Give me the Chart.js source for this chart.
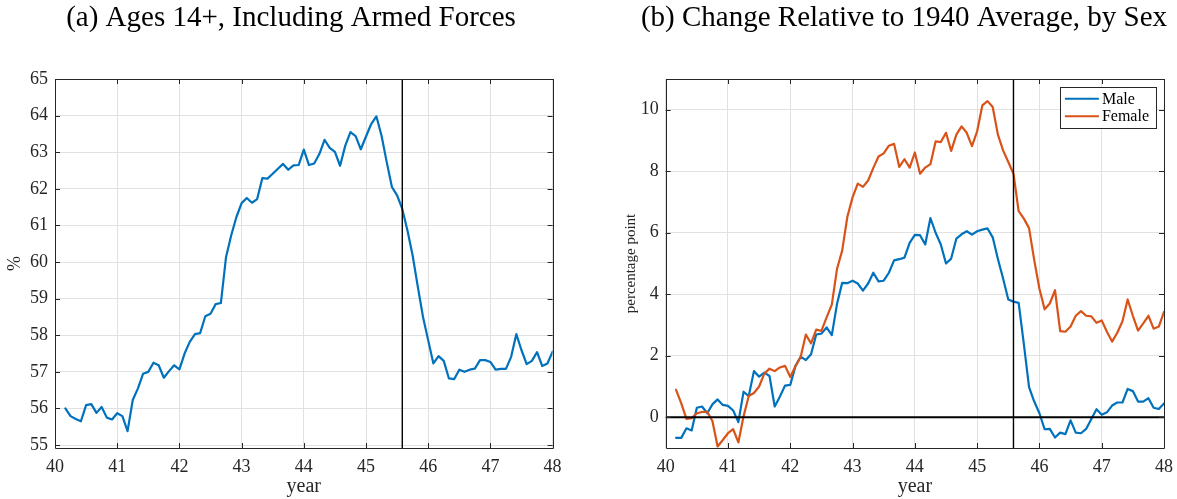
<!DOCTYPE html>
<html>
<head>
<meta charset="utf-8">
<script src="https://cdn.jsdelivr.net/npm/chart.js@4.4.1/dist/chart.umd.min.js"></script>
<style>
  html, body { margin: 0; padding: 0; background: #fff; overflow: hidden; }
  #wrap { position: relative; width: 1177px; height: 499px; }
  #cLeft { position: absolute; left: 0; top: 0; }
  #cRight { position: absolute; left: 600px; top: 0; }
</style>
</head>
<body>
<div id="wrap">
  <canvas id="cLeft" width="600" height="499"></canvas>
  <canvas id="cRight" width="577" height="499"></canvas>
</div>
<script>
// Monthly observations, March 1940 through January 1948 (two-digit years).
const FIRST_YEAR = 40;
const FIRST_MONTH = 2; // months after January of FIRST_YEAR

// (a) Labor force participation, ages 14+, including armed forces (%)
const participation = [
  56.00, 55.79, 55.71, 55.65, 56.09, 56.12, 55.88, 56.04, 55.75, 55.70,
  55.87, 55.79, 55.38, 56.23, 56.55, 56.95, 57.00, 57.25, 57.18, 56.84,
  57.02, 57.18, 57.07, 57.50, 57.82, 58.03, 58.06, 58.52, 58.59, 58.85,
  58.88, 60.14, 60.73, 61.23, 61.61, 61.75, 61.62, 61.72, 62.29, 62.28,
  62.41, 62.55, 62.68, 62.52, 62.64, 62.65, 63.07, 62.65, 62.69, 62.95,
  63.34, 63.12, 63.01, 62.63, 63.18, 63.55, 63.44, 63.08, 63.43, 63.77,
  63.98, 63.45, 62.73, 62.05, 61.82, 61.45, 60.86, 60.18, 59.32, 58.50,
  57.86, 57.23, 57.43, 57.30, 56.82, 56.80, 57.06, 57.00, 57.06, 57.09,
  57.32, 57.32, 57.27, 57.06, 57.08, 57.08, 57.41, 58.03, 57.59, 57.21,
  57.30, 57.54, 57.16, 57.23, 57.55
];

// (b) Change relative to the 1940 average (percentage points)
const maleChange = [
  -0.67, -0.67, -0.36, -0.43, 0.31, 0.35, 0.13, 0.42, 0.58, 0.40,
  0.37, 0.22, -0.16, 0.83, 0.69, 1.50, 1.32, 1.45, 1.34, 0.35,
  0.67, 1.03, 1.05, 1.67, 1.97, 1.86, 2.05, 2.69, 2.72, 2.92,
  2.67, 3.68, 4.37, 4.36, 4.44, 4.35, 4.12, 4.35, 4.70, 4.42,
  4.44, 4.70, 5.10, 5.14, 5.19, 5.67, 5.93, 5.92, 5.62, 6.48,
  6.00, 5.62, 5.00, 5.16, 5.81, 5.95, 6.05, 5.94, 6.05, 6.10,
  6.14, 5.85, 5.15, 4.51, 3.83, 3.76, 3.72, 2.38, 0.98, 0.51,
  0.13, -0.39, -0.38, -0.66, -0.50, -0.55, -0.10, -0.50, -0.52, -0.38,
  -0.06, 0.26, 0.08, 0.16, 0.38, 0.48, 0.48, 0.92, 0.85, 0.51,
  0.51, 0.62, 0.31, 0.27, 0.45
];
const femaleChange = [
  0.89, 0.45, -0.05, -0.03, 0.13, 0.17, 0.18, -0.12, -0.95, -0.74,
  -0.52, -0.39, -0.82, 0.03, 0.69, 0.79, 1.00, 1.42, 1.58, 1.50,
  1.62, 1.67, 1.31, 1.66, 1.96, 2.69, 2.40, 2.85, 2.81, 3.25,
  3.66, 4.82, 5.42, 6.52, 7.15, 7.60, 7.49, 7.70, 8.11, 8.48,
  8.58, 8.83, 8.89, 8.14, 8.39, 8.12, 8.61, 7.92, 8.12, 8.23,
  8.97, 8.95, 9.25, 8.66, 9.19, 9.46, 9.25, 8.82, 9.30, 10.14,
  10.28, 10.09, 9.19, 8.68, 8.30, 7.92, 6.70, 6.46, 6.15, 5.11,
  4.18, 3.51, 3.70, 4.13, 2.80, 2.78, 2.95, 3.30, 3.45, 3.30,
  3.28, 3.07, 3.15, 2.78, 2.46, 2.75, 3.12, 3.83, 3.30, 2.82,
  3.05, 3.30, 2.88, 2.95, 3.43
];

// Axis ticks and limits
const yearTicks = [40, 41, 42, 43, 44, 45, 46, 47, 48];
const pctTicks = [55, 56, 57, 58, 59, 60, 61, 62, 63, 64, 65];
const ppTicks = [0, 2, 4, 6, 8, 10];
const yearRange = [40, 48];
const pctRange = [54.92, 65];
const ppRange = [-1, 11];

// End of the war: August 1945
const warEnd = 45 + 7 / 12;

const titles = [
  '(a) Ages 14+, Including Armed Forces',
  '(b) Change Relative to 1940 Average, by Sex'
];
const seriesNames = ['Male', 'Female'];

// Time axis for the monthly series
const monthX = participation.map((_, k) => FIRST_YEAR + (FIRST_MONTH + k) / 12);
const toPoints = vals => vals.map((v, k) => ({ x: monthX[k], y: v }));

const SERIF = "'Liberation Serif', 'Times New Roman', serif";
const AXIS_COLOR = '#262626';
const GRID_COLOR = '#e1e1e1';
const BLUE = '#0072BD';
const ORANGE = '#D95319';

// Closed axes box with inward tick marks on all four sides
const boxFrame = {
  id: 'boxFrame',
  afterDatasetsDraw(chart, args, opts) {
    const { ctx, chartArea: a, scales } = chart;
    const len = opts.tickLength;
    const al = v => Math.round(v) + 0.5;
    ctx.save();
    ctx.strokeStyle = opts.color;
    ctx.lineWidth = 1;
    ctx.beginPath();
    ctx.rect(al(a.left), al(a.top), Math.round(a.right) - Math.round(a.left), Math.round(a.bottom) - Math.round(a.top));
    scales.x.ticks.forEach(t => {
      const px = al(scales.x.getPixelForValue(t.value));
      ctx.moveTo(px, a.top); ctx.lineTo(px, a.top + len);
      ctx.moveTo(px, a.bottom); ctx.lineTo(px, a.bottom - len);
    });
    scales.y.ticks.forEach(t => {
      const py = al(scales.y.getPixelForValue(t.value));
      ctx.moveTo(a.left, py); ctx.lineTo(a.left + len, py);
      ctx.moveTo(a.right, py); ctx.lineTo(a.right - len, py);
    });
    ctx.stroke();
    ctx.restore();
  }
};

// Panel caption above each axes
const caption = {
  id: 'caption',
  afterDraw(chart, args, opts) {
    const ctx = chart.ctx;
    ctx.save();
    ctx.font = opts.font;
    ctx.fillStyle = opts.color;
    ctx.textAlign = 'center';
    ctx.textBaseline = 'middle';
    ctx.fillText(opts.text, opts.x, opts.y);
    ctx.restore();
  }
};

// Boxed legend in the upper-right corner of the plot area
const boxedLegend = {
  id: 'boxedLegend',
  afterDraw(chart, args, opts) {
    if (!opts.display) return;
    const { ctx, chartArea: a } = chart;
    const items = chart.data.datasets.filter(d => d.label);
    ctx.save();
    ctx.font = opts.font;
    const textW = Math.max(...items.map(d => ctx.measureText(d.label).width));
    const w = opts.textX + textW + opts.padRight;
    const h = opts.rowGap * items.length + opts.padY * 2;
    const x0 = a.right - opts.inset - w;
    const y0 = a.top + opts.inset;
    ctx.fillStyle = '#fff';
    ctx.fillRect(x0, y0, w, h);
    ctx.strokeStyle = AXIS_COLOR;
    ctx.lineWidth = 1;
    ctx.strokeRect(Math.round(x0) + 0.5, Math.round(y0) + 0.5, Math.round(w), Math.round(h));
    ctx.textBaseline = 'middle';
    ctx.textAlign = 'left';
    items.forEach((d, i) => {
      const cy = y0 + opts.padY + opts.rowGap * (i + 0.5);
      ctx.strokeStyle = d.borderColor;
      ctx.lineWidth = d.borderWidth;
      ctx.beginPath();
      ctx.moveTo(x0 + opts.lineStart, cy);
      ctx.lineTo(x0 + opts.lineEnd, cy);
      ctx.stroke();
      ctx.fillStyle = '#000';
      ctx.fillText(d.label, x0 + opts.textX, cy + 1);
    });
    ctx.restore();
  }
};

function setTicks(values) {
  return scale => { scale.ticks = values.map(v => ({ value: v })); };
}

function axisX(height) {
  return {
    type: 'linear',
    min: yearRange[0], max: yearRange[1],
    afterBuildTicks: setTicks(yearTicks),
    // fixed axis band; end labels may overhang the plot area
    afterFit: s => { s.height = height; s.paddingLeft = 0; s.paddingRight = 0; },
    grid: { color: GRID_COLOR, lineWidth: 1, drawTicks: false },
    border: { display: false },
    ticks: { color: AXIS_COLOR, font: { family: SERIF, size: 18 }, padding: 8, maxRotation: 0, autoSkip: false },
    title: { display: true, text: 'year', color: AXIS_COLOR, font: { family: SERIF, size: 20 }, padding: { top: 0, bottom: 0 } }
  };
}

function axisY(range, ticks, width, label, labelSize, labelPad) {
  return {
    type: 'linear',
    min: range[0], max: range[1],
    afterBuildTicks: setTicks(ticks),
    afterFit: s => { s.width = width; s.paddingTop = 0; s.paddingBottom = 0; },
    grid: { color: GRID_COLOR, lineWidth: 1, drawTicks: false },
    border: { display: false },
    ticks: { color: AXIS_COLOR, font: { family: SERIF, size: 18 }, padding: 7, autoSkip: false },
    title: { display: true, text: label, color: AXIS_COLOR, font: { family: SERIF, size: labelSize }, padding: { top: labelPad, bottom: 0 } }
  };
}

const lineStyle = { pointRadius: 0, borderWidth: 2.2, tension: 0, borderJoinStyle: 'round', borderCapStyle: 'round', fill: false };
const refStyle = { pointRadius: 0, tension: 0, borderColor: '#000', fill: false };

const commonPlugins = {
  legend: { display: false },
  tooltip: { enabled: false },
  boxFrame: { color: AXIS_COLOR, tickLength: 5 }
};

new Chart(document.getElementById('cLeft'), {
  type: 'line',
  data: {
    datasets: [
      Object.assign({ data: [{ x: warEnd, y: pctRange[0] }, { x: warEnd, y: pctRange[1] }], borderWidth: 1.4, order: 0 }, refStyle),
      Object.assign({ data: toPoints(participation), borderColor: BLUE, order: 1 }, lineStyle)
    ]
  },
  options: {
    responsive: false,
    animation: false,
    layout: { padding: { left: 0, right: 47.4, top: 79, bottom: 0 } },
    scales: {
      x: axisX(51),
      y: axisY(pctRange, pctTicks, 55, '%', 18, 4)
    },
    plugins: Object.assign({}, commonPlugins, {
      caption: { text: titles[0], x: 291, y: 18, font: '29px ' + SERIF, color: '#000' },
      boxedLegend: { display: false }
    })
  },
  plugins: [boxFrame, caption, boxedLegend]
});

new Chart(document.getElementById('cRight'), {
  type: 'line',
  data: {
    datasets: [
      Object.assign({ data: [{ x: warEnd, y: ppRange[0] }, { x: warEnd, y: ppRange[1] }], borderWidth: 1.4, order: 0 }, refStyle),
      Object.assign({ data: [{ x: yearRange[0], y: 0 }, { x: yearRange[1], y: 0 }], borderWidth: 2, order: 0 }, refStyle),
      Object.assign({ label: seriesNames[0], data: toPoints(maleChange), borderColor: BLUE, order: 2 }, lineStyle),
      Object.assign({ label: seriesNames[1], data: toPoints(femaleChange), borderColor: ORANGE, order: 1 }, lineStyle)
    ]
  },
  options: {
    responsive: false,
    animation: false,
    layout: { padding: { left: 0, right: 13, top: 79, bottom: 0 } },
    scales: {
      x: axisX(51),
      y: axisY(ppRange, ppTicks, 65.7, 'percentage point', 15, 22)
    },
    plugins: Object.assign({}, commonPlugins, {
      caption: { text: titles[1], x: 304, y: 18, font: '29px ' + SERIF, color: '#000' },
      boxedLegend: { display: true, font: '16px ' + SERIF, inset: 8, padY: 3, rowGap: 17.5, lineStart: 5, lineEnd: 39, textX: 42, padRight: 7 }
    })
  },
  plugins: [boxFrame, caption, boxedLegend]
});
</script>
</body>
</html>
